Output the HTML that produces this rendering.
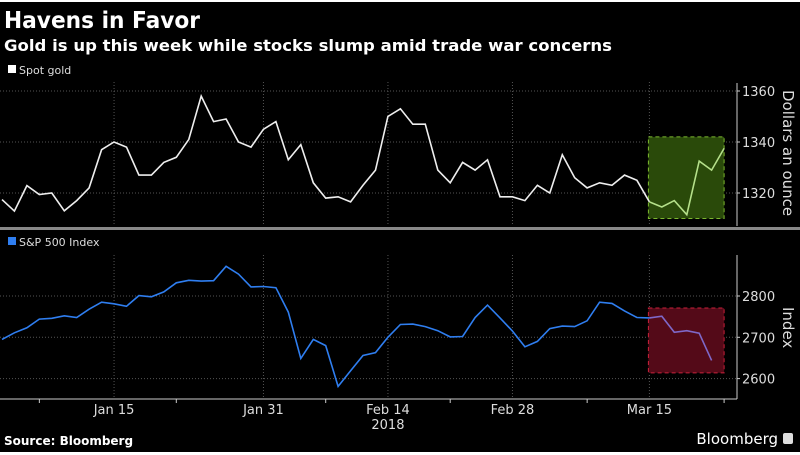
<!DOCTYPE html>
<html><head><meta charset="utf-8"><style>
html,body{margin:0;padding:0;background:#fff;}
svg{display:block;font-family:"DejaVu Sans","Liberation Sans",sans-serif;}
</style></head><body>
<svg id="chart" width="800" height="455" viewBox="0 0 800 455">
<rect x="0" y="2" width="800" height="450" fill="#000"/>
<text x="4" y="28" fill="#fff" font-weight="bold" font-size="23" textLength="196" lengthAdjust="spacingAndGlyphs">Havens in Favor</text>
<text x="4" y="51" fill="#fff" font-weight="bold" font-size="16" textLength="608" lengthAdjust="spacingAndGlyphs">Gold is up this week while stocks slump amid trade war concerns</text>
<rect x="8" y="65" width="8" height="8" fill="#fff"/>
<text x="19" y="74" fill="#ddd" font-size="11">Spot gold</text>
<rect x="8" y="237" width="8" height="8" fill="#2f7ef0"/>
<text x="19" y="246" fill="#ddd" font-size="11">S&amp;P 500 Index</text>
<rect x="0" y="227" width="800" height="3" fill="#888"/>
<text x="4" y="445" fill="#fff" font-weight="bold" font-size="12">Source: Bloomberg</text>
<text x="778" y="444" fill="#fff" font-size="15" text-anchor="end">Bloomberg</text>
<rect x="783" y="433" width="10" height="11" rx="2" fill="#ddd"/>
<g id="plots"></g>
</svg>
<script>
const goldValues=[1317.4,1312.9,1322.9,1319.4,1320,1313,1317,1322,1337,1340,1338,1327,1327,1332,1334,1341,1358,1348,1349,1340,1338,1345,1348,1333,1339,1324,1318,1318.5,1316.5,1323,1329,1350,1353,1347,1347,1329,1324,1332,1329,1333,1318.5,1318.5,1317,1323,1320,1335,1326,1322,1324,1323,1327,1325,1316.5,1314.5,1317,1311.5,1332.5,1329,1337.5];
const spValues=[2695,2711,2723,2744,2746,2752,2748,2768,2785,2781,2775,2801,2798,2810,2832,2838,2836,2837,2872,2853,2822,2823,2820,2761,2649,2695,2680,2581,2619,2656,2663,2700,2731,2732,2726,2716,2701,2702,2748,2778,2747,2715,2677,2690,2721,2727,2726,2740,2785,2782,2764,2748,2747,2751,2712,2716,2710,2644];
const goldTicks=[1320,1340,1360];
const spTicks=[2600,2700,2800];
const xLabels=["Jan 15","Jan 31","Feb 14","Feb 28","Mar 15"];
const xLabelIdx=[9,21,31,41,52];
const minorTickIdx=[3,14,26,36,47,58];
const highlightStart=52, highlightEnd=58;
const goldBox=[1310,1342];
const spBox=[2614,2771];

const NS="http://www.w3.org/2000/svg";
const g=document.getElementById('plots');
function el(t,a){const e=document.createElementNS(NS,t);for(const k in a)e.setAttribute(k,a[k]);g.appendChild(e);return e;}
const xS=i=>2+i*12.45;
const yG=v=>91+(1360-v)*2.55;
const yS=v=>296+(2800-v)*0.413;
const AX=737;

// grids
xLabelIdx.forEach(i=>{
  const a=el('line',{x1:xS(i),x2:xS(i),y1:82,y2:226,stroke:'#555','stroke-dasharray':'1,2'});
  
  const b=el('line',{x1:xS(i),x2:xS(i),y1:255,y2:398,stroke:'#555','stroke-dasharray':'1,2'});
  
});
goldTicks.forEach(v=>{
  const l=el('line',{x1:0,x2:AX,y1:yG(v),y2:yG(v),stroke:'#555','stroke-dasharray':'1,2'});
  
  const t=el('text',{x:AX+5,y:yG(v)+5,fill:'#ddd','font-size':'13'});t.textContent=v;
  
  const k=el('line',{x1:AX,x2:AX+3,y1:yG(v),y2:yG(v),stroke:'#ccc'});
  
});
spTicks.forEach(v=>{
  const l=el('line',{x1:0,x2:AX,y1:yS(v),y2:yS(v),stroke:'#555','stroke-dasharray':'1,2'});
  
  const t=el('text',{x:AX+5,y:yS(v)+5,fill:'#ddd','font-size':'13'});t.textContent=v;
  
  const k=el('line',{x1:AX,x2:AX+3,y1:yS(v),y2:yS(v),stroke:'#ccc'});
  
});
let a1=el('line',{x1:AX,x2:AX,y1:83,y2:226,stroke:'#ccc'});

let a2=el('line',{x1:AX,x2:AX,y1:255,y2:399,stroke:'#ccc'});

let a3=el('line',{x1:0,x2:AX,y1:399,y2:399,stroke:'#ccc'});

let yt1=el('text',{transform:'translate(783,90) rotate(90)',fill:'#ddd','font-size':'15'});yt1.textContent='Dollars an ounce';

let yt2=el('text',{transform:'translate(783,307) rotate(90)',fill:'#ddd','font-size':'15'});yt2.textContent='Index';


// x labels
xLabels.forEach((s,j)=>{
  const t=el('text',{x:xS(xLabelIdx[j]),y:414,fill:'#ddd','font-size':'13','text-anchor':'middle'});t.textContent=s;
  
});
minorTickIdx.forEach(i=>{
  const k=el('line',{x1:xS(i),x2:xS(i),y1:399,y2:403,stroke:'#ccc'});
  
});
let yr=el('text',{x:xS(31),y:429,fill:'#ddd','font-size':'13','text-anchor':'middle'});yr.textContent='2018';


// highlight boxes
let gb=el('rect',{x:xS(highlightStart)-1,y:yG(goldBox[1]),width:xS(highlightEnd)-xS(highlightStart)+1,height:yG(goldBox[0])-yG(goldBox[1]),fill:'#2a4a0a',stroke:'#7cb82f','stroke-dasharray':'4,3'});

let sb=el('rect',{x:xS(highlightStart)-1,y:yS(spBox[1]),width:xS(highlightEnd)-xS(highlightStart)+1,height:yS(spBox[0])-yS(spBox[1]),fill:'#540a18',stroke:'#c8203a','stroke-dasharray':'4,3'});


// lines
function pts(arr,ys,from,to){return arr.slice(from,to).map((v,k)=>xS(from+k).toFixed(1)+','+ys(v).toFixed(1)).join(' ');}
let gl=el('polyline',{points:pts(goldValues,yG,0,highlightStart+1),fill:'none',stroke:'#eee','stroke-width':'1.6'});

let gl2=el('polyline',{points:pts(goldValues,yG,highlightStart,goldValues.length),fill:'none',stroke:'#b5e08a','stroke-width':'1.6'});

let sl=el('polyline',{points:pts(spValues,yS,0,highlightStart+1),fill:'none',stroke:'#2f7ef0','stroke-width':'1.6'});

let sl2=el('polyline',{points:pts(spValues,yS,highlightStart,spValues.length),fill:'none',stroke:'#7f68c8','stroke-width':'1.6'});

</script>
</body></html>
